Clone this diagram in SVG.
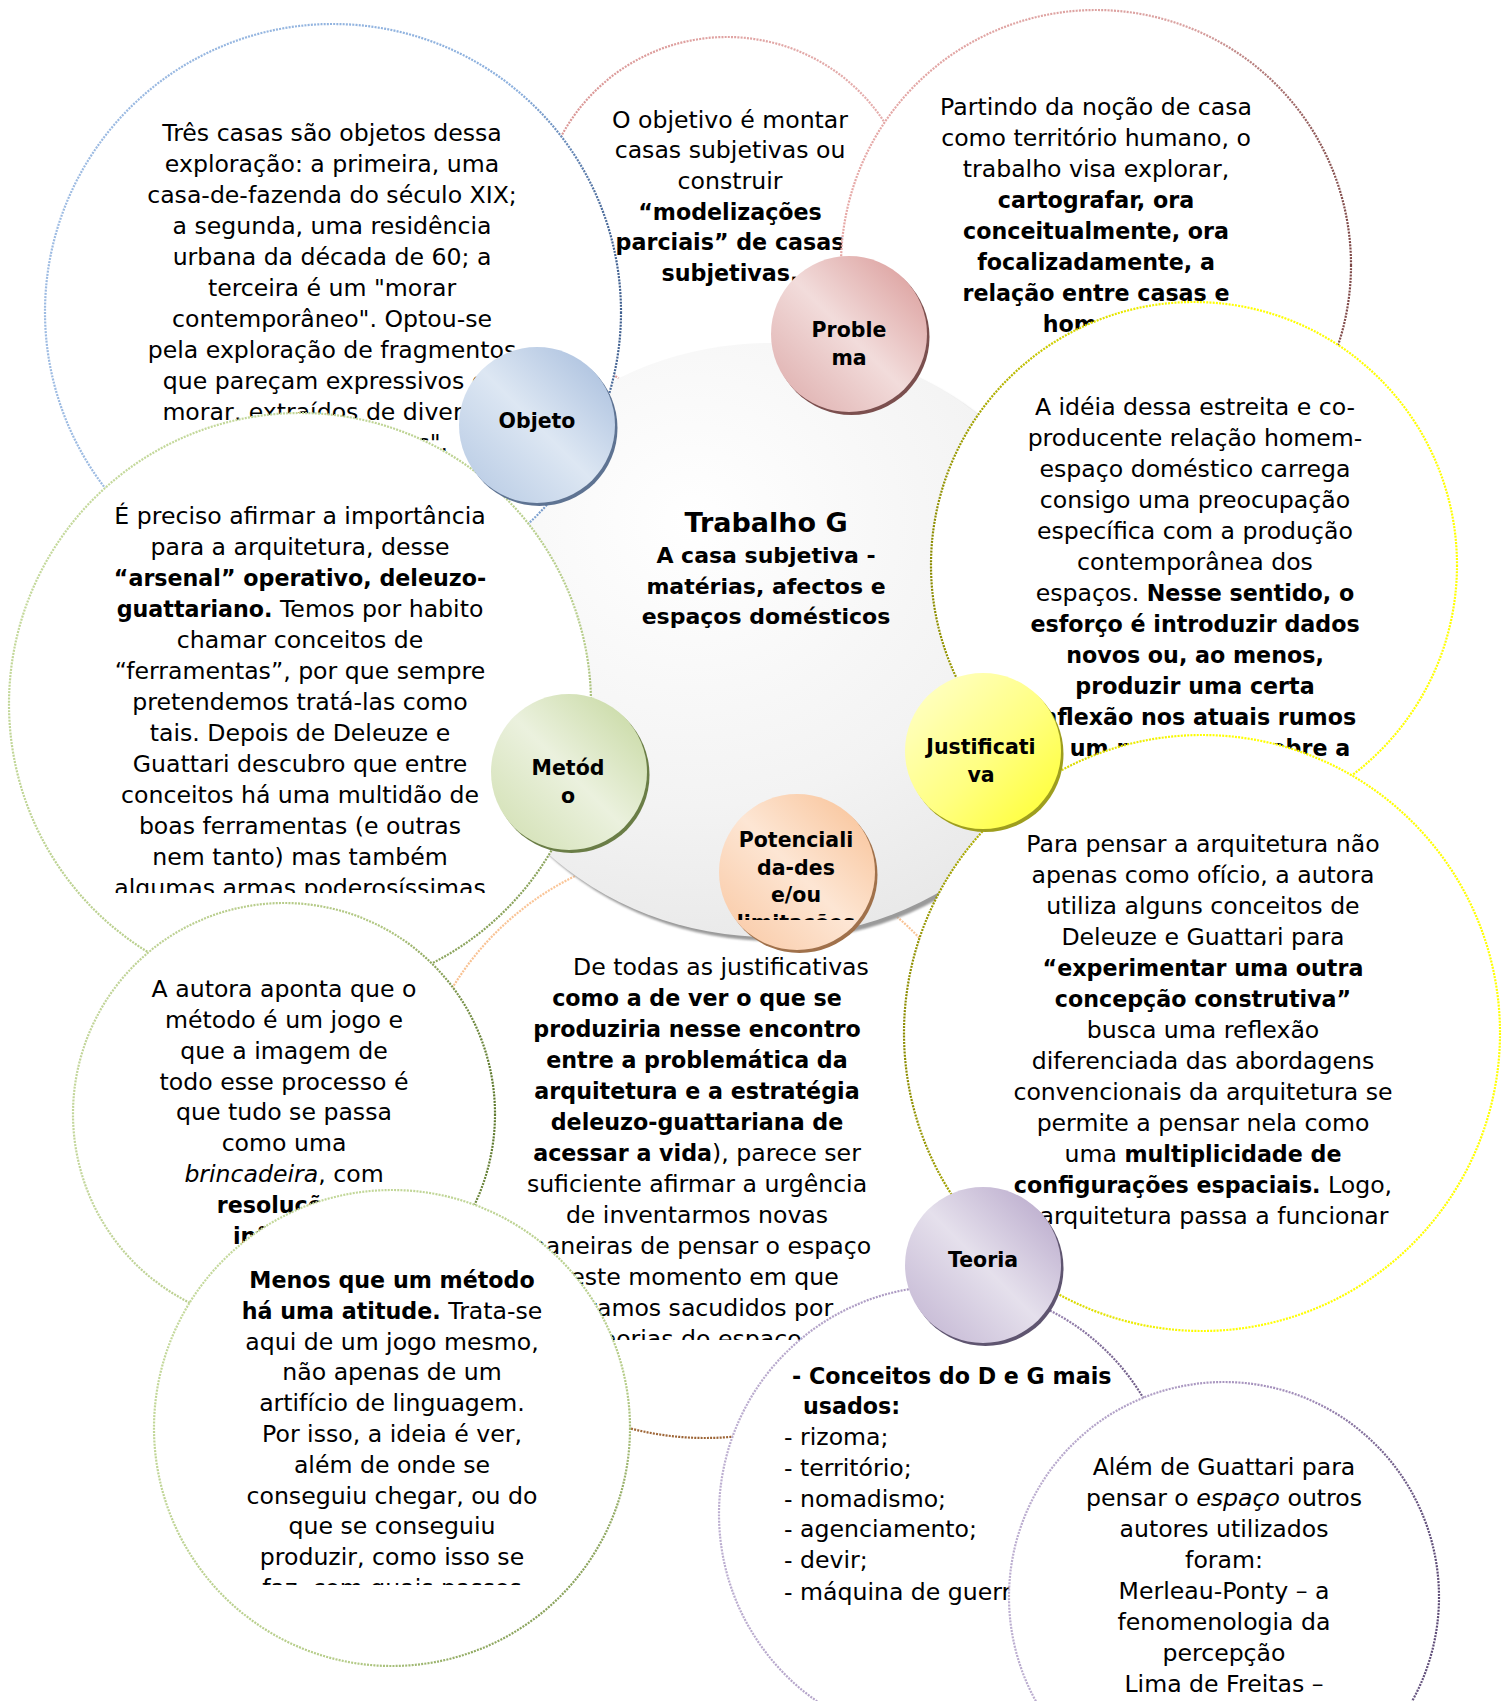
<svg xmlns="http://www.w3.org/2000/svg" width="1502" height="1701" viewBox="0 0 1502 1701">
<defs>
  <style>
    .ring { fill: #ffffff; stroke-width: 2.2; stroke-dasharray: 2 1.2; }
    .t { font-family: "DejaVu Sans", "Liberation Sans", sans-serif; font-size: 23.6px; fill: #000000; text-anchor: middle; }
    .ts { font-family: "DejaVu Sans", "Liberation Sans", sans-serif; font-size: 23.6px; fill: #000000; text-anchor: start; }
    .b { font-weight: bold; font-size: 22.2px; }
    .i { font-style: italic; }
    .lbl { font-family: "DejaVu Sans", "Liberation Sans", sans-serif; font-size: 20.5px; font-weight: bold; fill: #000000; text-anchor: middle; }
    .ttl { font-family: "DejaVu Sans", "Liberation Sans", sans-serif; font-weight: bold; fill: #000000; text-anchor: middle; }
  </style>

  <!-- ring stroke gradients -->
  <linearGradient id="ringBlue" x1="0" y1="0" x2="1" y2="0">
    <stop offset="0" stop-color="#9dbbe2"/>
    <stop offset="0.82" stop-color="#8cb0de"/>
    <stop offset="1" stop-color="#3f5f8f"/>
  </linearGradient>
  <linearGradient id="ringPinkA" x1="0" y1="0" x2="1" y2="0">
    <stop offset="0" stop-color="#d99594"/>
    <stop offset="1" stop-color="#e6b0af"/>
  </linearGradient>
  <linearGradient id="ringPinkB" x1="0" y1="0" x2="1" y2="0">
    <stop offset="0" stop-color="#e6a8a6"/>
    <stop offset="0.7" stop-color="#d9a09f"/>
    <stop offset="1" stop-color="#7d4746"/>
  </linearGradient>
  <linearGradient id="ringYellow" x1="0" y1="0" x2="1" y2="0">
    <stop offset="0" stop-color="#8b8b00"/>
    <stop offset="0.25" stop-color="#d4d400"/>
    <stop offset="0.5" stop-color="#ffff00"/>
    <stop offset="1" stop-color="#ffff00"/>
  </linearGradient>
  <linearGradient id="ringGreenD" x1="0" y1="0" x2="1" y2="1">
    <stop offset="0" stop-color="#c8dca0"/>
    <stop offset="0.7" stop-color="#b5cc88"/>
    <stop offset="1" stop-color="#5f7a2e"/>
  </linearGradient>
  <linearGradient id="ringGreenH" x1="0" y1="0" x2="1" y2="0">
    <stop offset="0" stop-color="#c3d69b"/>
    <stop offset="0.75" stop-color="#b0c680"/>
    <stop offset="1" stop-color="#5e7a2e"/>
  </linearGradient>
  <linearGradient id="ringOrange" x1="0" y1="0" x2="0" y2="1">
    <stop offset="0" stop-color="#fbc79a"/>
    <stop offset="0.75" stop-color="#f0b07a"/>
    <stop offset="1" stop-color="#9c6435"/>
  </linearGradient>
  <linearGradient id="ringPurple" x1="0" y1="0" x2="1" y2="0">
    <stop offset="0" stop-color="#bcaed0"/>
    <stop offset="0.7" stop-color="#a08bb8"/>
    <stop offset="1" stop-color="#5c4a75"/>
  </linearGradient>

  <!-- bubble fills -->
  <linearGradient id="fBlue" x1="1" y1="0" x2="0" y2="1">
    <stop offset="0" stop-color="#a3badb"/>
    <stop offset="0.5" stop-color="#dde7f3"/>
    <stop offset="1" stop-color="#b3c7e2"/>
  </linearGradient>
  <linearGradient id="fPink" x1="1" y1="0" x2="0" y2="1">
    <stop offset="0" stop-color="#d89593"/>
    <stop offset="0.5" stop-color="#f2dcdb"/>
    <stop offset="1" stop-color="#dca9a8"/>
  </linearGradient>
  <linearGradient id="fYellow" x1="0" y1="0" x2="1" y2="1">
    <stop offset="0" stop-color="#ffffd0"/>
    <stop offset="0.55" stop-color="#ffff80"/>
    <stop offset="1" stop-color="#ffff2a"/>
  </linearGradient>
  <linearGradient id="fPeach" x1="1" y1="0" x2="0" y2="1">
    <stop offset="0" stop-color="#f8bf92"/>
    <stop offset="0.5" stop-color="#fde6d4"/>
    <stop offset="1" stop-color="#f9c6a0"/>
  </linearGradient>
  <linearGradient id="fGreen" x1="1" y1="0" x2="0" y2="1">
    <stop offset="0" stop-color="#c3d69b"/>
    <stop offset="0.5" stop-color="#ebf1de"/>
    <stop offset="1" stop-color="#cfdeae"/>
  </linearGradient>
  <linearGradient id="fPurple" x1="1" y1="0" x2="0" y2="1">
    <stop offset="0" stop-color="#b3a2c7"/>
    <stop offset="0.5" stop-color="#e5e0ec"/>
    <stop offset="1" stop-color="#bfb1d0"/>
  </linearGradient>
  <radialGradient id="fCore" cx="0.38" cy="0.3" r="0.8">
    <stop offset="0" stop-color="#ffffff"/>
    <stop offset="0.6" stop-color="#f3f3f3"/>
    <stop offset="1" stop-color="#e6e6e6"/>
  </radialGradient>
  <filter id="soft" x="-10%" y="-10%" width="120%" height="120%">
    <feGaussianBlur stdDeviation="1.2"/>
  </filter>

  <!-- text frames -->
  <clipPath id="clipF"><rect x="0" y="380" width="620" height="513"/></clipPath>
  <clipPath id="clipH"><rect x="140" y="1180" width="520" height="405"/></clipPath>
  <clipPath id="clipI"><rect x="480" y="940" width="440" height="400"/></clipPath>
  <clipPath id="clipPot"><rect x="720" y="800" width="160" height="120"/></clipPath>
</defs>

<rect width="1502" height="1701" fill="#ffffff"/>

<!-- Problema: objective -->
<g id="problema-objetivo">
  <circle class="ring" cx="727" cy="225" r="188" stroke="url(#ringPinkA)"/>
  <text class="t" x="730" y="128">O objetivo é montar</text>
  <text class="t" x="730" y="158">casas subjetivas ou</text>
  <text class="t" x="730" y="189">construir</text>
  <text class="t b" x="730" y="220">“modelizações</text>
  <text class="t b" x="730" y="250">parciais” de casas</text>
  <text class="t b" x="730" y="281">subjetivas.</text>
</g>

<!-- Problema: description -->
<g id="problema-descricao">
  <circle class="ring" cx="1096" cy="265" r="255" stroke="url(#ringPinkB)"/>
  <text class="t" x="1096" y="115">Partindo da noção de casa</text>
  <text class="t" x="1096" y="146">como território humano, o</text>
  <text class="t" x="1096" y="177">trabalho visa explorar,</text>
  <text class="t b" x="1096" y="208">cartografar, ora</text>
  <text class="t b" x="1096" y="239">conceitualmente, ora</text>
  <text class="t b" x="1096" y="270">focalizadamente, a</text>
  <text class="t b" x="1096" y="301">relação entre casas e</text>
  <text class="t b" x="1096" y="332">homens.</text>
</g>

<!-- Potencialidades -->
<g id="potencialidades-texto">
  <circle class="ring" cx="705" cy="1142" r="296" stroke="url(#ringOrange)"/>
  <g clip-path="url(#clipI)">
    <text class="t" x="721" y="975">De todas as justificativas</text>
    <text class="t b" x="697" y="1006">como a de ver o que se</text>
    <text class="t b" x="697" y="1037">produziria nesse encontro</text>
    <text class="t b" x="697" y="1068">entre a problemática da</text>
    <text class="t b" x="697" y="1099">arquitetura e a estratégia</text>
    <text class="t b" x="697" y="1130">deleuzo-guattariana de</text>
    <text class="t" x="697" y="1161"><tspan class="b">acessar a vida</tspan>), parece ser</text>
    <text class="t" x="697" y="1192">suficiente afirmar a urgência</text>
    <text class="t" x="697" y="1223">de inventarmos novas</text>
    <text class="t" x="697" y="1254">maneiras de pensar o espaço</text>
    <text class="t" x="697" y="1285">neste momento em que</text>
    <text class="t" x="697" y="1316">estamos sacudidos por</text>
    <text class="t" x="697" y="1347">teorias do espaço</text>
  </g>
</g>

<!-- central theme -->
<g id="trabalho-g">
  <ellipse cx="774" cy="644" rx="320" ry="297" fill="#9a9a9a" filter="url(#soft)"/>
  <ellipse cx="770" cy="640" rx="320" ry="297" fill="url(#fCore)"/>
  <text class="ttl" x="766" y="532" font-size="27px">Trabalho G</text>
  <text class="ttl" x="766" y="563" font-size="22px">A casa subjetiva -</text>
  <text class="ttl" x="766" y="594" font-size="22px">matérias, afectos e</text>
  <text class="ttl" x="766" y="624" font-size="22px">espaços domésticos</text>
</g>

<!-- Objeto -->
<g id="objeto-texto">
  <circle class="ring" cx="333" cy="312" r="288" stroke="url(#ringBlue)"/>
  <text class="t" x="332" y="141">Três casas são objetos dessa</text>
  <text class="t" x="332" y="172">exploração: a primeira, uma</text>
  <text class="t" x="332" y="203">casa-de-fazenda do século XIX;</text>
  <text class="t" x="332" y="234">a segunda, uma residência</text>
  <text class="t" x="332" y="265">urbana da década de 60; a</text>
  <text class="t" x="332" y="296">terceira é um "morar</text>
  <text class="t" x="332" y="327">contemporâneo". Optou-se</text>
  <text class="t" x="332" y="358">pela exploração de fragmentos</text>
  <text class="t" x="332" y="389">que pareçam expressivos do</text>
  <text class="t" x="332" y="420">morar, extraídos de diversos</text>
  <text class="t" x="332" y="451">espaços e tempos".</text>
</g>

<!-- Justificativa -->
<g id="justificativa-texto">
  <circle class="ring" cx="1194" cy="565" r="263" stroke="url(#ringYellow)"/>
  <text class="t" x="1195" y="415">A idéia dessa estreita e co-</text>
  <text class="t" x="1195" y="446">producente relação homem-</text>
  <text class="t" x="1195" y="477">espaço doméstico carrega</text>
  <text class="t" x="1195" y="508">consigo uma preocupação</text>
  <text class="t" x="1195" y="539">específica com a produção</text>
  <text class="t" x="1195" y="570">contemporânea dos</text>
  <text class="t" x="1195" y="601">espaços. <tspan class="b">Nesse sentido, o</tspan></text>
  <text class="t b" x="1195" y="632">esforço é introduzir dados</text>
  <text class="t b" x="1195" y="663">novos ou, ao menos,</text>
  <text class="t b" x="1195" y="694">produzir uma certa</text>
  <text class="t b" x="1195" y="725">inflexão nos atuais rumos</text>
  <text class="t b" x="1210" y="756">um novo olhar sobre a</text>
</g>

<!-- Teoria: description -->
<g id="teoria-descricao">
  <circle class="ring" cx="1202" cy="1033" r="298" stroke="url(#ringYellow)"/>
  <text class="t" x="1203" y="852">Para pensar a arquitetura não</text>
  <text class="t" x="1203" y="883">apenas como ofício, a autora</text>
  <text class="t" x="1203" y="914">utiliza alguns conceitos de</text>
  <text class="t" x="1203" y="945">Deleuze e Guattari para</text>
  <text class="t b" x="1203" y="976">“experimentar uma outra</text>
  <text class="t b" x="1203" y="1007">concepção construtiva”</text>
  <text class="t" x="1203" y="1038">busca uma reflexão</text>
  <text class="t" x="1203" y="1069">diferenciada das abordagens</text>
  <text class="t" x="1203" y="1100">convencionais da arquitetura se</text>
  <text class="t" x="1203" y="1131">permite a pensar nela como</text>
  <text class="t" x="1203" y="1162">uma <tspan class="b">multiplicidade de</tspan></text>
  <text class="t" x="1203" y="1193"><tspan class="b">configurações espaciais.</tspan> Logo,</text>
  <text class="t" x="1203" y="1224">a arquitetura passa a funcionar</text>
</g>

<!-- Método: tools -->
<g id="metodo-ferramentas">
  <circle class="ring" cx="300" cy="704" r="291" stroke="url(#ringGreenD)"/>
  <g clip-path="url(#clipF)">
    <text class="t" x="300" y="524">É preciso afirmar a importância</text>
    <text class="t" x="300" y="555">para a arquitetura, desse</text>
    <text class="t b" x="300" y="586">“arsenal” operativo, deleuzo-</text>
    <text class="t" x="300" y="617"><tspan class="b">guattariano.</tspan> Temos por habito</text>
    <text class="t" x="300" y="648">chamar conceitos de</text>
    <text class="t" x="300" y="679">“ferramentas”, por que sempre</text>
    <text class="t" x="300" y="710">pretendemos tratá-las como</text>
    <text class="t" x="300" y="741">tais. Depois de Deleuze e</text>
    <text class="t" x="300" y="772">Guattari descubro que entre</text>
    <text class="t" x="300" y="803">conceitos há uma multidão de</text>
    <text class="t" x="300" y="834">boas ferramentas (e outras</text>
    <text class="t" x="300" y="865">nem tanto) mas também</text>
    <text class="t" x="300" y="896">algumas armas poderosíssimas</text>
  </g>
</g>

<!-- Método: game -->
<g id="metodo-jogo">
  <circle class="ring" cx="284" cy="1114" r="211" stroke="url(#ringGreenH)"/>
  <text class="t" x="284" y="997">A autora aponta que o</text>
  <text class="t" x="284" y="1028">método é um jogo e</text>
  <text class="t" x="284" y="1059">que a imagem de</text>
  <text class="t" x="284" y="1090">todo esse processo é</text>
  <text class="t" x="284" y="1120">que tudo se passa</text>
  <text class="t" x="284" y="1151">como uma</text>
  <text class="t" x="284" y="1182"><tspan class="i">brincadeira</tspan>, com</text>
  <text class="t b" x="284" y="1213">resoluções</text>
  <text class="t b" x="284" y="1244">infinitas</text>
</g>

<!-- Método: attitude -->
<g id="metodo-atitude">
  <circle class="ring" cx="392" cy="1428" r="238" stroke="url(#ringGreenD)"/>
  <g clip-path="url(#clipH)">
    <text class="t b" x="392" y="1288">Menos que um método</text>
    <text class="t" x="392" y="1319"><tspan class="b">há uma atitude.</tspan> Trata-se</text>
    <text class="t" x="392" y="1350">aqui de um jogo mesmo,</text>
    <text class="t" x="392" y="1380">não apenas de um</text>
    <text class="t" x="392" y="1411">artifício de linguagem.</text>
    <text class="t" x="392" y="1442">Por isso, a ideia é ver,</text>
    <text class="t" x="392" y="1473">além de onde se</text>
    <text class="t" x="392" y="1504">conseguiu chegar, ou do</text>
    <text class="t" x="392" y="1534">que se conseguiu</text>
    <text class="t" x="392" y="1565">produzir, como isso se</text>
    <text class="t" x="392" y="1596">faz, com quais passos</text>
  </g>
</g>

<!-- Teoria: concepts -->
<g id="teoria-conceitos">
  <circle class="ring" cx="947" cy="1514" r="228" stroke="url(#ringPurple)"/>
  <text class="ts b" x="792" y="1384">- Conceitos do D e G mais</text>
  <text class="ts b" x="803" y="1414">usados:</text>
  <text class="ts" x="784" y="1445">- rizoma;</text>
  <text class="ts" x="784" y="1476">- território;</text>
  <text class="ts" x="784" y="1507">- nomadismo;</text>
  <text class="ts" x="784" y="1537">- agenciamento;</text>
  <text class="ts" x="784" y="1568">- devir;</text>
  <text class="ts" x="784" y="1600">- máquina de guerra;</text>
</g>

<!-- Teoria: other authors -->
<g id="teoria-autores">
  <circle class="ring" cx="1224" cy="1597" r="215" stroke="url(#ringPurple)"/>
  <text class="t" x="1224" y="1475">Além de Guattari para</text>
  <text class="t" x="1224" y="1506">pensar o <tspan class="i">espaço</tspan> outros</text>
  <text class="t" x="1224" y="1537">autores utilizados</text>
  <text class="t" x="1224" y="1568">foram:</text>
  <text class="t" x="1224" y="1599">Merleau-Ponty – a</text>
  <text class="t" x="1224" y="1630">fenomenologia da</text>
  <text class="t" x="1224" y="1661">percepção</text>
  <text class="t" x="1224" y="1692">Lima de Freitas –</text>
</g>

<!-- no drawn connectors: bubbles sit directly on the rings -->
<g id="connectors"/>

<!-- topic bubbles -->
<g id="objeto">
  <circle cx="539.5" cy="428" r="78" fill="#5e7392"/>
  <circle cx="537" cy="425" r="78" fill="url(#fBlue)"/>
  <text class="lbl" x="537" y="428">Objeto</text>
</g>
<g id="problema">
  <circle cx="851.5" cy="337" r="78" fill="#7b4f4e"/>
  <circle cx="849" cy="334" r="78" fill="url(#fPink)"/>
  <text class="lbl" x="849" y="337">Proble</text>
  <text class="lbl" x="849" y="365">ma</text>
</g>
<g id="justificativa">
  <circle cx="985.5" cy="754" r="78" fill="#9e9e1e"/>
  <circle cx="983" cy="751" r="78" fill="url(#fYellow)"/>
  <text class="lbl" x="981" y="754">Justificati</text>
  <text class="lbl" x="981" y="782">va</text>
</g>
<g id="potencialidades">
  <circle cx="799.5" cy="875" r="78" fill="#a0714b"/>
  <circle cx="797" cy="872" r="78" fill="url(#fPeach)"/>
  <g clip-path="url(#clipPot)">
    <text class="lbl" x="796" y="847">Potenciali</text>
    <text class="lbl" x="796" y="875">da-des</text>
    <text class="lbl" x="796" y="902">e/ou</text>
    <text class="lbl" x="796" y="930">limitações</text>
  </g>
</g>
<g id="metodo">
  <circle cx="571.5" cy="775" r="78" fill="#6a7d46"/>
  <circle cx="569" cy="772" r="78" fill="url(#fGreen)"/>
  <text class="lbl" x="568" y="775">Metód</text>
  <text class="lbl" x="568" y="803">o</text>
</g>
<g id="teoria">
  <circle cx="985.5" cy="1268" r="78" fill="#5f5570"/>
  <circle cx="983" cy="1265" r="78" fill="url(#fPurple)"/>
  <text class="lbl" x="983" y="1267">Teoria</text>
</g>
</svg>
